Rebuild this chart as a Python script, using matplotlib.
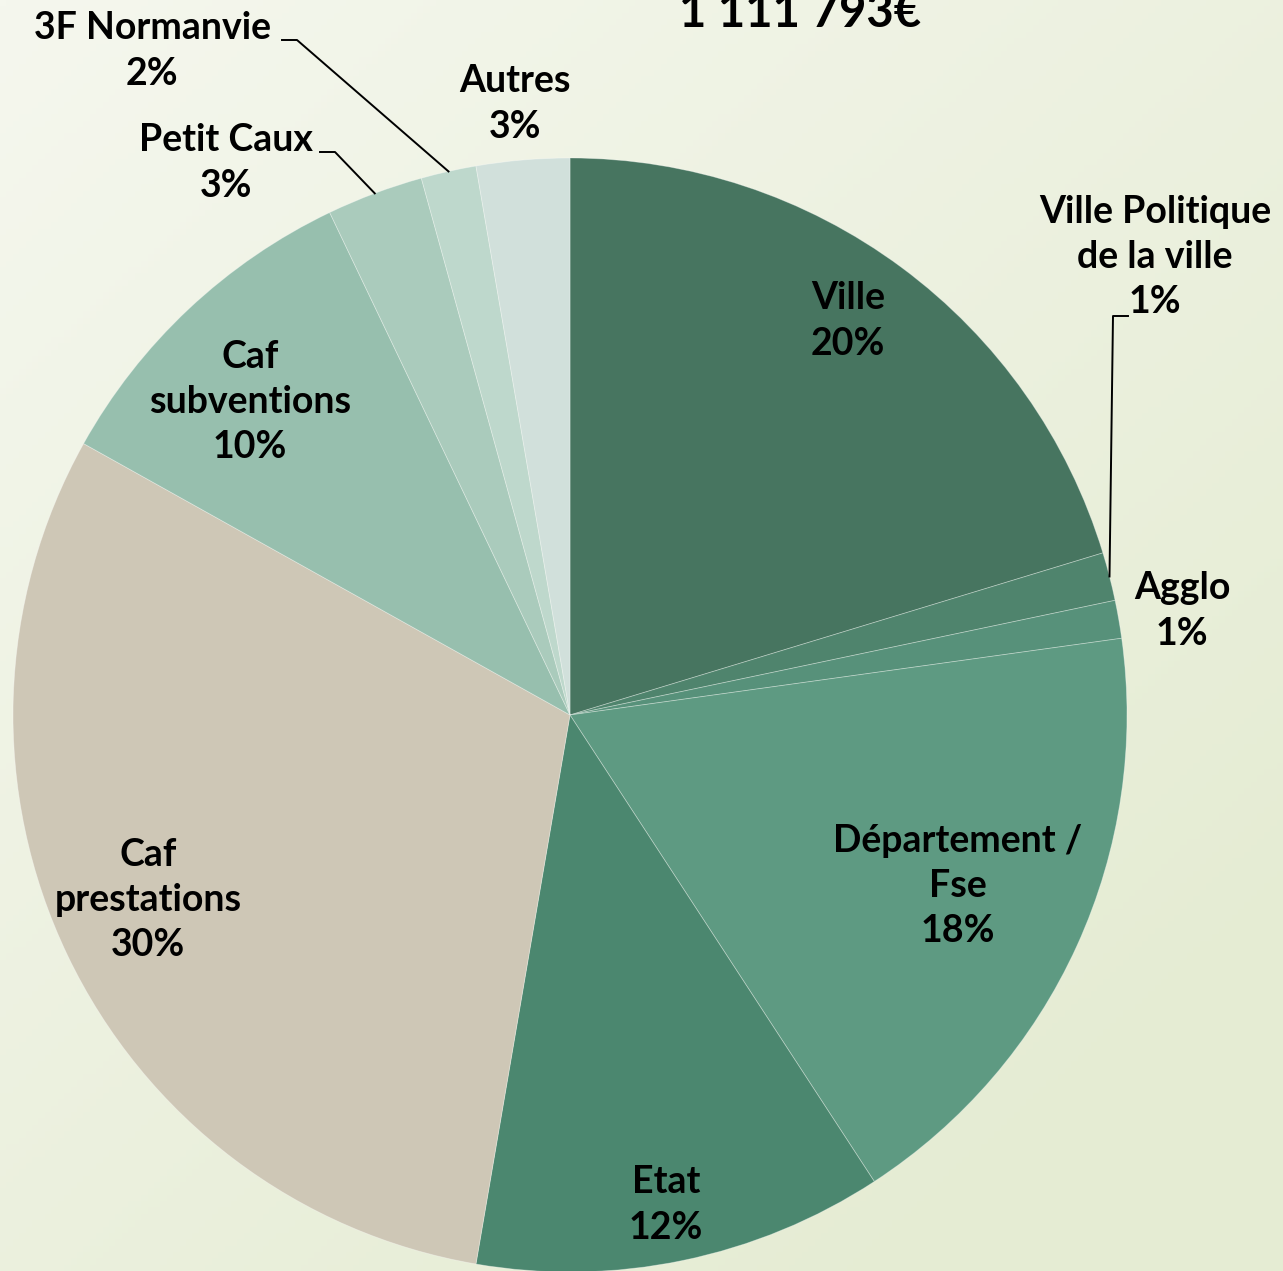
import numpy as np
import matplotlib.pyplot as plt

# données
labels = ["Ville", "Ville Politique\nde la ville", "Agglo", "Département /\nFse", "Etat",
          "Caf\nprestations", "Caf\nsubventions", "Petit Caux", "3F Normanvie", "Autres"]
values = [20.3, 1.4, 1.1, 18.0, 11.9, 30.4, 9.8, 2.8, 1.6, 2.7]
colors = ["#477560", "#4F846D", "#57917A", "#5E9A82", "#4B876F",
          "#CEC7B6", "#97BFAE", "#AACBBC", "#BED8CC", "#D1E0DB"]
total_label = "1 111 793€"

W, H = 1283, 1271
fig = plt.figure(figsize=(W / 100, H / 100), dpi=100)

# fond dégradé
bg = fig.add_axes([0, 0, 1, 1])
yy, xx = np.mgrid[0:1:200j, 0:1:200j]
t = np.clip(0.55 * xx + 0.6 * yy, 0, 1)
c0 = np.array([245, 247, 238]) / 255
c1 = np.array([229, 236, 211]) / 255
img = c0[None, None, :] * (1 - t[..., None]) + c1[None, None, :] * t[..., None]
bg.imshow(img, extent=[0, 1, 0, 1], origin="upper", aspect="auto")
bg.axis("off")

ax = fig.add_axes([0, 0, 1, 1])

cx, cy, r = 570, H - 715, 557
wedges, _ = ax.pie(values, colors=colors, startangle=90, counterclock=False,
                   center=(cx, cy), radius=r, frame=True,
                   wedgeprops=dict(edgecolor=(1, 1, 1, 0.35), linewidth=0.6))
ax.set_xlim(0, W)
ax.set_ylim(0, H)
ax.set_aspect("equal")
ax.axis("off")

font = dict(family="Lato", weight="bold", fontsize=27, color="black",
            ha="center", va="center", linespacing=1.4)

# positions des étiquettes (pixels, origine en haut)
pos = [(848, 321), (1155, 257), (1182, 611), (958, 886), (666, 1205),
       (148, 900), (250, 402), (226, 163), (152, 51), (515, 104)]
for lab, v, (x, y) in zip(labels, values, pos):
    ax.text(x, H - y, f"{lab}\n{round(v)}%", **font)


def edge_point(i, frac=1.0):
    w = wedges[i]
    ang = np.deg2rad((w.theta1 + w.theta2) / 2)
    return cx + r * frac * np.cos(ang), cy + r * frac * np.sin(ang)


# lignes de rappel
ex, ey = edge_point(1)
ax.plot([1128, 1113, ex], [H - 316, H - 316, ey], color="black", lw=1.4)
ex, ey = edge_point(7)
ax.plot([320, 335, ex], [H - 152, H - 152, ey], color="black", lw=1.4)
ex, ey = edge_point(8)
ax.plot([282, 297, ex], [H - 40, H - 40, ey], color="black", lw=1.4)

ax.text(800, H - 27, total_label, family="Lato", weight="bold", fontsize=34,
        ha="center", va="baseline")

fig.savefig("out.png", dpi=100)
